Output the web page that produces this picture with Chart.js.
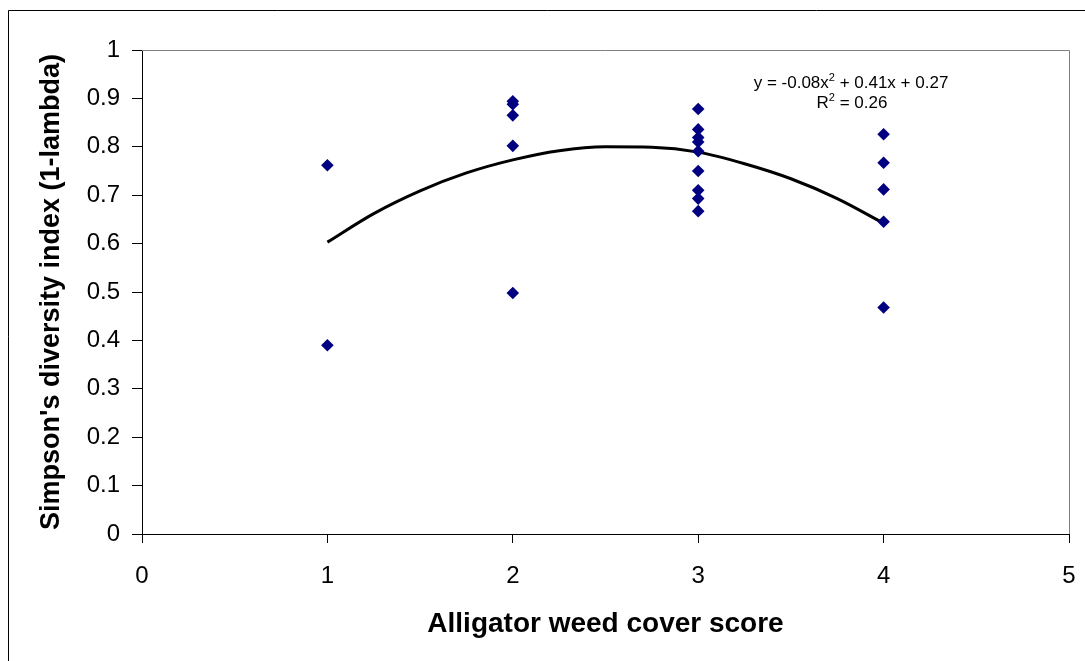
<!DOCTYPE html>
<html>
<head>
<meta charset="utf-8">
<script src="https://cdn.jsdelivr.net/npm/chart.js@4/dist/chart.umd.min.js"></script>
<style>
  body { margin: 0; background: #fff; }
  #wrap { width: 1085px; height: 661px; }
</style>
</head>
<body>
<div id="wrap"><canvas id="graph" width="1085" height="661"></canvas></div>
<script>
// alligator weed cover score vs Simpson's index
var coverScore = [1, 1, 2, 2, 2, 2, 2, 3, 3, 3, 3, 3, 3, 3, 3, 3, 4, 4, 4, 4, 4];
var simpsonIndex = [0.762, 0.390,
                    0.894, 0.888, 0.865, 0.802, 0.498,
                    0.878, 0.836, 0.819, 0.810, 0.791, 0.750, 0.710, 0.693, 0.667,
                    0.826, 0.767, 0.712, 0.645, 0.468];

// polynomial trendline as drawn
var trendX = [1, 1.25, 1.5, 1.75, 2, 2.25, 2.5, 2.75, 3, 3.25, 3.5, 3.75, 4];
var trendY = [0.603, 0.662, 0.709, 0.746, 0.773, 0.792, 0.800, 0.799, 0.789, 0.765, 0.734, 0.693, 0.642];

var xTicks = [0, 1, 2, 3, 4, 5];
var yTicks = [0, 0.1, 0.2, 0.3, 0.4, 0.5, 0.6, 0.7, 0.8, 0.9, 1];

var eqLine1 = ['y = -0.08x', '2', ' + 0.41x + 0.27'];
var eqLine2 = ['R', '2', ' = 0.26'];

var FONT = "'Liberation Sans', Arial, sans-serif";

function toPoints(xs, ys) {
    var out = [];
    for (var i = 0; i < xs.length; i++) {
        out.push({x: xs[i], y: ys[i]});
    }
    return out;
}

// frame, plot border and the trendline label
var decorations = {
    id: 'decorations',
    beforeDraw: function(chart) {
        var ctx = chart.ctx;
        ctx.save();
        ctx.fillStyle = '#fff';
        ctx.fillRect(0, 0, chart.width, chart.height);
        ctx.strokeStyle = '#000';
        ctx.lineWidth = 1;
        ctx.beginPath();
        ctx.moveTo(8.5, chart.height + 2);
        ctx.lineTo(8.5, 10.5);
        ctx.lineTo(chart.width + 2, 10.5);
        ctx.stroke();
        ctx.restore();
    },
    afterDraw: function(chart) {
        var ctx = chart.ctx;
        var a = chart.chartArea;
        ctx.save();
        ctx.strokeStyle = '#808080';
        ctx.lineWidth = 1;
        ctx.beginPath();
        ctx.moveTo(a.left, Math.round(a.top) + 0.5);
        ctx.lineTo(Math.round(a.right) + 0.5, Math.round(a.top) + 0.5);
        ctx.lineTo(Math.round(a.right) + 0.5, a.bottom);
        ctx.stroke();

        drawSup(ctx, eqLine1, 851, 88);
        drawSup(ctx, eqLine2, 852, 108);
        ctx.restore();
    }
};

function drawSup(ctx, parts, cx, baseY) {
    var big = '17px ' + FONT, small = '11px ' + FONT;
    ctx.font = big;
    var w0 = ctx.measureText(parts[0]).width;
    var w2 = ctx.measureText(parts[2]).width;
    ctx.font = small;
    var w1 = ctx.measureText(parts[1]).width;
    var x = cx - (w0 + w1 + w2) / 2;
    ctx.fillStyle = '#000';
    ctx.textBaseline = 'alphabetic';
    ctx.textAlign = 'left';
    ctx.font = big;
    ctx.fillText(parts[0], x, baseY);
    ctx.font = small;
    ctx.fillText(parts[1], x + w0, baseY - 7);
    ctx.font = big;
    ctx.fillText(parts[2], x + w0 + w1, baseY);
}

var ctx = document.getElementById('graph').getContext('2d');
var chart = new Chart(ctx, {
    type: 'scatter',
    data: {
        datasets: [
            {
                label: 'Simpson index',
                data: toPoints(coverScore, simpsonIndex),
                pointStyle: 'rectRot',
                pointRadius: 6.3,
                pointHoverRadius: 6.3,
                backgroundColor: '#000080',
                borderColor: '#000080',
                borderWidth: 0
            },
            {
                label: 'Poly. trend',
                type: 'line',
                data: toPoints(trendX, trendY),
                borderColor: '#000',
                borderWidth: 3,
                pointRadius: 0,
                fill: false,
                cubicInterpolationMode: 'monotone'
            }
        ]
    },
    options: {
        responsive: false,
        animation: false,
        layout: { padding: { left: 0, right: 16, top: 50, bottom: 0 } },
        plugins: {
            legend: { display: false },
            tooltip: { enabled: false }
        },
        scales: {
            x: {
                type: 'linear',
                min: 0,
                max: 5,
                afterFit: function(scale) {
                    scale.height = 127;
                    scale.paddingLeft = 0;
                    scale.paddingRight = 0;
                },
                afterBuildTicks: function(scale) {
                    scale.ticks = xTicks.map(function(v) { return {value: v}; });
                },
                border: { display: true, color: '#000', width: 1 },
                grid: { display: true, drawOnChartArea: false, drawTicks: true, tickLength: 9, color: '#000' },
                ticks: { color: '#000', padding: 19, font: { family: FONT, size: 24 } },
                title: {
                    display: true,
                    text: 'Alligator weed cover score',
                    color: '#000',
                    font: { family: FONT, size: 28, weight: 'bold' },
                    padding: { top: 0, bottom: 20 }
                }
            },
            y: {
                type: 'linear',
                min: 0,
                max: 1,
                afterFit: function(scale) { scale.width = 142; },
                afterBuildTicks: function(scale) {
                    scale.ticks = yTicks.map(function(v) { return {value: v}; });
                },
                border: { display: true, color: '#000', width: 1 },
                grid: { display: true, drawOnChartArea: false, drawTicks: true, tickLength: 10, color: '#000' },
                ticks: {
                    color: '#000',
                    padding: 12,
                    font: { family: FONT, size: 24 },
                    callback: function(v) { return String(Math.round(v * 10) / 10); }
                },
                title: {
                    display: true,
                    text: "Simpson's diversity index (1-lambda)",
                    color: '#000',
                    font: { family: FONT, size: 27, weight: 'bold' },
                    padding: { top: 35, bottom: 0 }
                }
            }
        }
    },
    plugins: [decorations]
});
</script>
</body>
</html>
